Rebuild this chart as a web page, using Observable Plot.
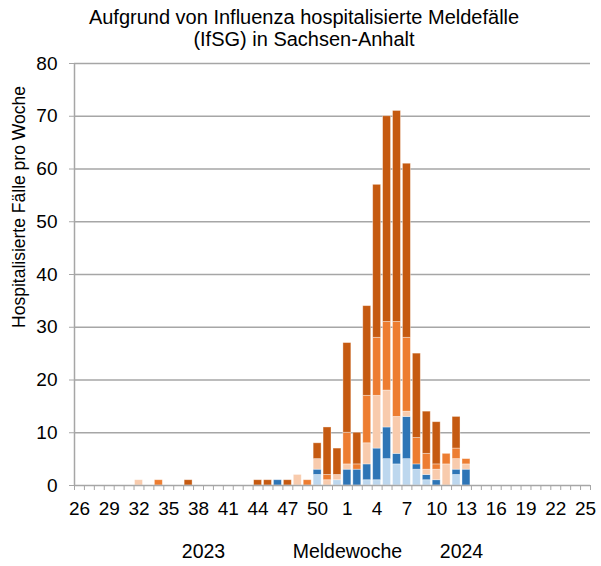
<!DOCTYPE html>
<html>
<head>
<meta charset="utf-8">
<script src="https://cdn.jsdelivr.net/npm/d3@7"></script>
<script src="https://cdn.jsdelivr.net/npm/@observablehq/plot@0.6"></script>
<style>
  html, body { margin: 0; padding: 0; background: #fff; }
  svg { display: block; }
</style>
</head>
<body>
<div id="chart"></div>
<script>
// Meldewochen (KW 26/2023 bis KW 25/2024)
const weeks = [26,27,28,29,30,31,32,33,34,35,36,37,38,39,40,41,42,43,44,45,46,47,48,49,50,51,52,
               1,2,3,4,5,6,7,8,9,10,11,12,13,14,15,16,17,18,19,20,21,22,23,24,25];
const years = [2023,2023,2023,2023,2023,2023,2023,2023,2023,2023,2023,2023,2023,2023,2023,2023,2023,2023,2023,2023,2023,2023,2023,2023,2023,2023,2023,
               2024,2024,2024,2024,2024,2024,2024,2024,2024,2024,2024,2024,2024,2024,2024,2024,2024,2024,2024,2024,2024,2024,2024,2024,2024];
const weekTickLabels = [26,29,32,35,38,41,44,47,50,1,4,7,10,13,16,19,22,25];

// Fünf gestapelte Reihen (unten nach oben)
const seriesNames = ["Reihe 1","Reihe 2","Reihe 3","Reihe 4","Reihe 5"];
const seriesColors = ["#bdd7ee","#2e75b6","#f8cbad","#ed7d31","#c55a11"];

const reihe1 = [0,0,0,0,0,0,0,0,0,0, 0,0,0,0,0,0,0,0,0,0, 0,0,0,0,2,0,1,
                0,0,1,1,5,4,5,3,1,0,0,2,0, 0,0,0,0,0,0,0,0,0,0,0,0];
const reihe2 = [0,0,0,0,0,0,0,0,0,0, 0,0,0,0,0,0,0,0,0,0, 1,0,0,0,1,0,0,
                3,3,3,6,6,2,8,1,1,1,0,1,3, 0,0,0,0,0,0,0,0,0,0,0,0];
const reihe3 = [0,0,0,0,0,0,1,0,0,0, 0,0,0,0,0,0,0,0,0,0, 0,0,2,0,2,1,1,
                1,0,4,10,7,7,1,0,1,2,4,2,1, 0,0,0,0,0,0,0,0,0,0,0,0];
const reihe4 = [0,0,0,0,0,0,0,0,1,0, 0,0,0,0,0,0,0,0,0,0, 0,0,0,1,0,1,0,
                6,1,9,11,13,18,14,5,3,1,2,2,1, 0,0,0,0,0,0,0,0,0,0,0,0];
const reihe5 = [0,0,0,0,0,0,0,0,0,0, 0,1,0,0,0,0,0,0,1,1, 0,1,0,0,3,9,5,
                17,6,17,29,39,40,33,16,8,8,0,6,0, 0,0,0,0,0,0,0,0,0,0,0,0];

const yTicks = [0,10,20,30,40,50,60,70,80];

const title1 = "Aufgrund von Influenza hospitalisierte Meldefälle";
const title2 = "(IfSG) in Sachsen-Anhalt";
const yLabel = "Hospitalisierte Fälle pro Woche";
const xLabel = "Meldewoche";

// ---- build table ----
const keys = weeks.map((w, i) => years[i] + "-" + w);
const keyLabel = new Map(keys.map((k, i) => [k, String(weeks[i])]));
const allSeries = [reihe1, reihe2, reihe3, reihe4, reihe5];
const data = [];
keys.forEach((k, i) => {
  allSeries.forEach((s, j) => {
    if (s[i] > 0) data.push({key: k, series: seriesNames[j], value: s[i]});
  });
});
const labelKeys = keys.filter((k, i) => weekTickLabels.includes(weeks[i]) && (i % 3 === 0));

const W = 601, H = 566;
const mL = 74, mR = 11, mT = 63, mB = 81;
const step = (W - mL - mR) / keys.length;
const grey = "#a6a6a6";
const font = "'Liberation Sans', Arial, sans-serif";

const chart = Plot.plot({
  width: W,
  height: H,
  marginLeft: mL,
  marginRight: mR,
  marginTop: mT,
  marginBottom: mB,
  style: {fontFamily: font, background: "#fff", color: "#000", overflow: "visible"},
  x: {type: "band", domain: keys, paddingInner: 0.2, paddingOuter: 0.1, align: 0.5, axis: null},
  y: {domain: [0, 80], axis: null},
  color: {domain: seriesNames, range: seriesColors},
  marks: [
    Plot.ruleY(yTicks.filter(v => v > 0), {stroke: grey, strokeWidth: 1.3}),
    Plot.barY(data, {
      x: "key", y: "value", fill: "series", order: seriesNames,
      stroke: "#fff", strokeOpacity: 0.45, strokeWidth: 0.8
    }),
    Plot.ruleY([0], {stroke: grey, strokeWidth: 1.5}),
    Plot.ruleX([keys[0]], {dx: -step / 2, stroke: grey, strokeWidth: 1.5}),
    Plot.axisY({ticks: yTicks, tickSize: 5, tickPadding: 12, stroke: grey, fill: "#000",
                fontSize: 19, label: null}),
    Plot.axisX({ticks: keys, tickSize: 5, tickFormat: () => "", dx: step / 2,
                stroke: grey, label: null}),
    Plot.axisX({ticks: [keys[0]], tickSize: 5, tickFormat: () => "", dx: -step / 2,
                stroke: grey, label: null}),
    Plot.axisX({ticks: labelKeys, tickSize: 0, tickPadding: 16, tickFormat: k => keyLabel.get(k),
                fill: "#000", fontSize: 19, label: null}),
    Plot.text([{k: keys[12], t: "2023"}], {x: "k", text: "t", frameAnchor: "bottom", lineAnchor: "middle",
               dx: step / 2, dy: 66, fontSize: 19.5, fill: "#000"}),
    Plot.text([{k: keys[27], t: xLabel}], {x: "k", text: "t", frameAnchor: "bottom", lineAnchor: "middle",
               dy: 66, fontSize: 19.5, fill: "#000"}),
    Plot.text([{k: keys[38], t: "2024"}], {x: "k", text: "t", frameAnchor: "bottom", lineAnchor: "middle",
               dx: step / 2, dy: 66, fontSize: 19.5, fill: "#000"}),
    Plot.text([title1], {frameAnchor: "top", lineAnchor: "middle", textAnchor: "middle",
                         dx: -28.5, dy: -46, fontSize: 20, fill: "#000"}),
    Plot.text([title2], {frameAnchor: "top", lineAnchor: "middle", textAnchor: "middle",
                         dx: -28.5, dy: -24, fontSize: 20, fill: "#000"}),
    Plot.text([yLabel], {frameAnchor: "left", lineAnchor: "middle", textAnchor: "middle", rotate: -90,
                         dx: -55.5, dy: -67.5, fontSize: 17.5, fill: "#000"})
  ]
});
document.getElementById("chart").appendChild(chart);
</script>
</body>
</html>
